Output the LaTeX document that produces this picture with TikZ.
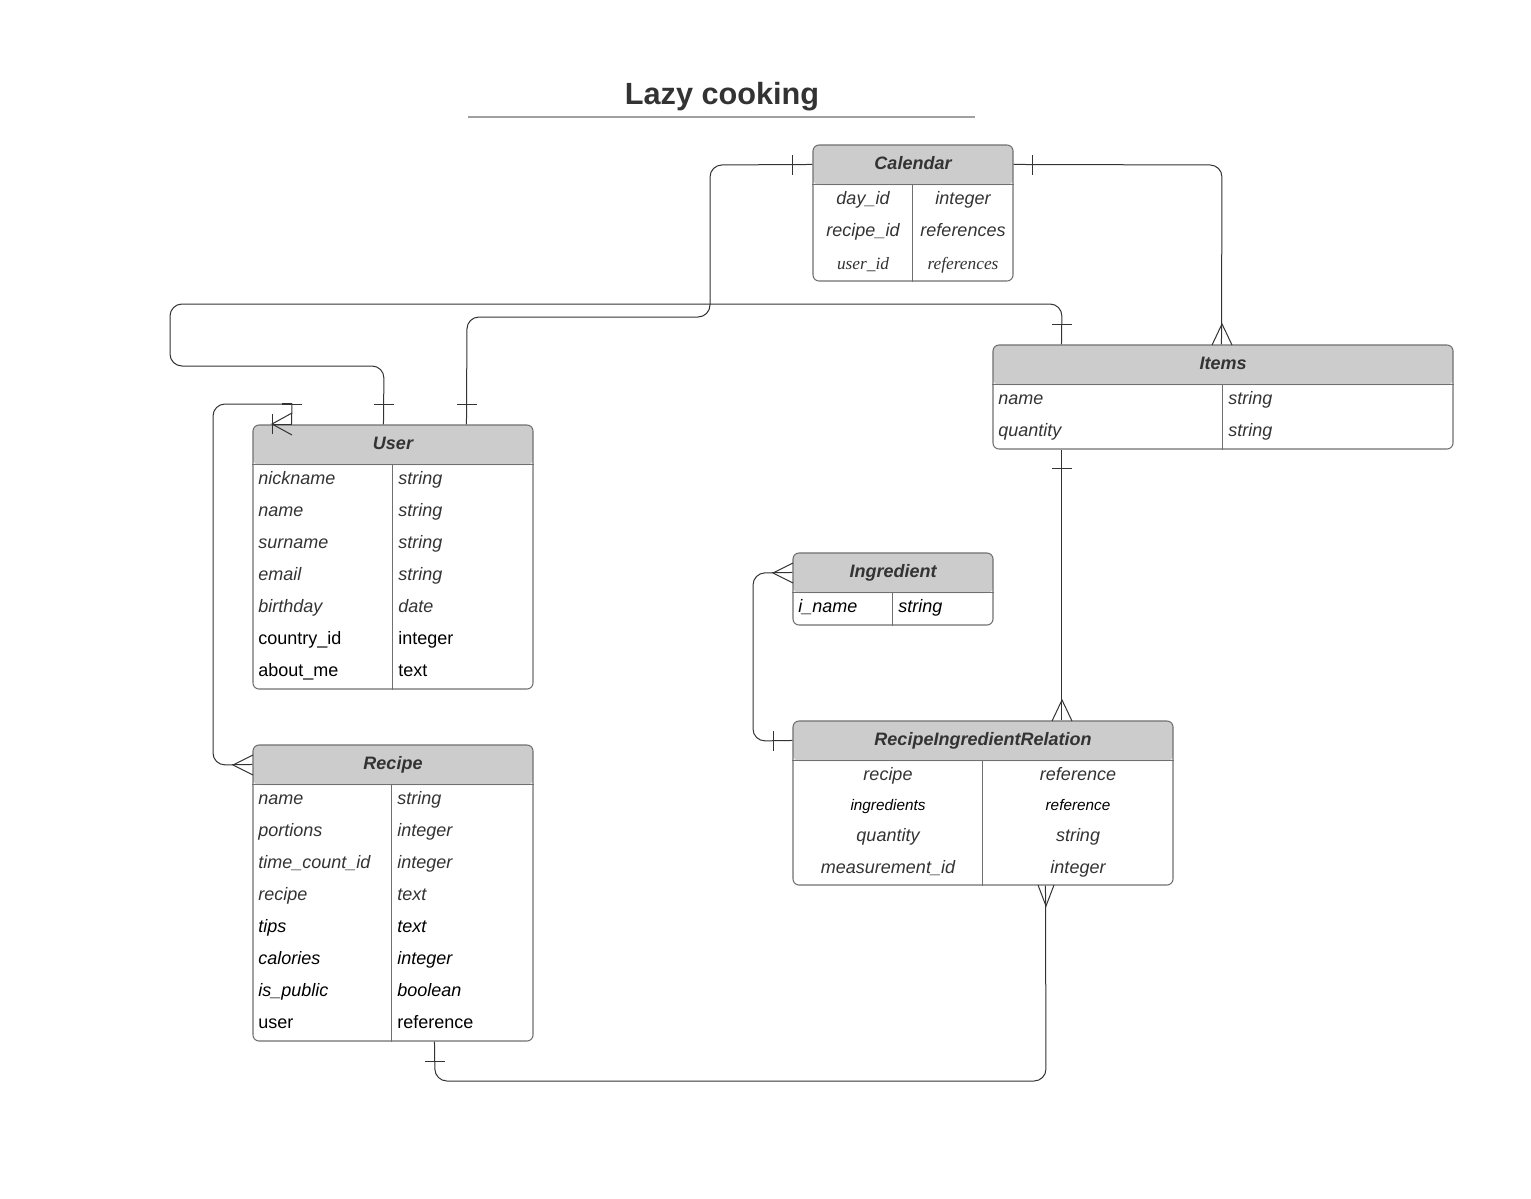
\documentclass[tikz,border=0pt]{standalone}
\usepackage{fontspec}
\setmainfont{Liberation Sans}
\newfontfamily\serifit{Liberation Serif}
\usetikzlibrary{calc}
\definecolor{hdr}{HTML}{CCCCCC}
\definecolor{brd}{HTML}{707070}
\definecolor{txt}{HTML}{333333}
\definecolor{ln}{HTML}{333333}
\definecolor{ttlline}{HTML}{A0A0A0}
\begin{document}
\begin{tikzpicture}[x=0.75pt,y=-0.75pt,
 tbl/.style={draw=brd, line width=0.8pt, rounded corners=4.5pt, inner sep=0pt,
   path picture={\fill[hdr] (path picture bounding box.north west) rectangle ([yshift=-30pt]path picture bounding box.north east);}},
 hd/.style={font=\fontsize{13.5}{16}\selectfont\bfseries\itshape, text=txt, anchor=base, inner sep=0pt},
 fi/.style={font=\fontsize{13.5}{16}\selectfont\itshape, text=txt, inner sep=0pt},
 fb/.style={font=\fontsize{13.5}{16}\selectfont\itshape, text=black, inner sep=0pt},
 fu/.style={font=\fontsize{13.5}{16}\selectfont, text=black, inner sep=0pt},
 fs/.style={font=\fontsize{11.5}{14}\selectfont\itshape, text=black, inner sep=0pt},
 fser/.style={font=\fontsize{13}{16}\selectfont\serifit\itshape, text=txt, inner sep=0pt},
 conn/.style={draw=ln, line width=0.75pt, rounded corners=9pt},
 mk/.style={draw=ln, line width=0.75pt},
 divl/.style={draw=brd, line width=0.8pt}
]
\useasboundingbox[fill=white] (0,0) rectangle (1531,1199);

% title
\node[font=\fontsize{23}{28}\selectfont\bfseries, text=txt, anchor=base, inner sep=0pt] (title) at (722,104) {Lazy cooking};
\coordinate (tl) at (468,117);
\coordinate (tr) at (975,117);
\draw[ttlline, line width=1.4pt] (tl) -- (tr);

% tables
\node[tbl, minimum width=150pt, minimum height=102pt] (cal) at (913,213) {};
\node[tbl, minimum width=210pt, minimum height=198pt] (user) at (393,557) {};
\node[tbl, minimum width=210pt, minimum height=222pt] (recipe) at (393,893) {};
\node[tbl, minimum width=345pt, minimum height=78pt] (items) at (1223,397) {};
\node[tbl, minimum width=150pt, minimum height=54pt] (ing) at (893,589) {};
\node[tbl, minimum width=285pt, minimum height=123pt] (rir) at (983,803) {};

% header lines and dividers
\foreach \t/\d in {cal/100, user/140, recipe/139, items/230, ing/100, rir/190}{
  \draw[divl] ($(\t.north west)+(0,40)$) -- ($(\t.north east)+(0,40)$);
  \draw[divl] ($(\t.north west)+(\d,40)$) -- ($(\t.south west)+(\d,0)$);
}

% Calendar
\node[hd] (calh) at (913,169) {Calendar};
\node[fi, anchor=base] (c1a) at (863,204) {day\_id};
\node[fi, anchor=base] (c1b) at (963,204) {integer};
\node[fi, anchor=base] (c2a) at (863,236) {recipe\_id};
\node[fi, anchor=base] (c2b) at (963,236) {references};
\node[fser, anchor=base] (c3a) at (863,269) {user\_id};
\node[fser, anchor=base] (c3b) at (963,269) {references};

% User
\node[hd] (userh) at (393,449) {User};
\node[fi, anchor=base west] (u1a) at (258,484) {nickname};
\node[fi, anchor=base west] (u1b) at (398,484) {string};
\node[fi, anchor=base west] (u2a) at (258,516) {name};
\node[fi, anchor=base west] (u2b) at (398,516) {string};
\node[fi, anchor=base west] (u3a) at (258,548) {surname};
\node[fi, anchor=base west] (u3b) at (398,548) {string};
\node[fi, anchor=base west] (u4a) at (258,580) {email};
\node[fi, anchor=base west] (u4b) at (398,580) {string};
\node[fi, anchor=base west] (u5a) at (258,612) {birthday};
\node[fi, anchor=base west] (u5b) at (398,612) {date};
\node[fu, anchor=base west] (u6a) at (258,644) {country\_id};
\node[fu, anchor=base west] (u6b) at (398,644) {integer};
\node[fu, anchor=base west] (u7a) at (258,676) {about\_me};
\node[fu, anchor=base west] (u7b) at (398,676) {text};

% Recipe
\node[hd] (reciph) at (393,769) {Recipe};
\node[fi, anchor=base west] (r1a) at (258,804) {name};
\node[fi, anchor=base west] (r1b) at (397,804) {string};
\node[fi, anchor=base west] (r2a) at (258,836) {portions};
\node[fi, anchor=base west] (r2b) at (397,836) {integer};
\node[fi, anchor=base west] (r3a) at (258,868) {time\_count\_id};
\node[fi, anchor=base west] (r3b) at (397,868) {integer};
\node[fi, anchor=base west] (r4a) at (258,900) {recipe};
\node[fi, anchor=base west] (r4b) at (397,900) {text};
\node[fb, anchor=base west] (r5a) at (258,932) {tips};
\node[fb, anchor=base west] (r5b) at (397,932) {text};
\node[fb, anchor=base west] (r6a) at (258,964) {calories};
\node[fb, anchor=base west] (r6b) at (397,964) {integer};
\node[fb, anchor=base west] (r7a) at (258,996) {is\_public};
\node[fb, anchor=base west] (r7b) at (397,996) {boolean};
\node[fu, anchor=base west] (r8a) at (258,1028) {user};
\node[fu, anchor=base west] (r8b) at (397,1028) {reference};

% Items
\node[hd] (itemsh) at (1223,369) {Items};
\node[fi, anchor=base west] (i1a) at (998,404) {name};
\node[fi, anchor=base west] (i1b) at (1228,404) {string};
\node[fi, anchor=base west] (i2a) at (998,436) {quantity};
\node[fi, anchor=base west] (i2b) at (1228,436) {string};

% Ingredient
\node[hd] (ingh) at (893,577) {Ingredient};
\node[fb, anchor=base west] (g1a) at (798,612) {i\_name};
\node[fb, anchor=base west] (g1b) at (898,612) {string};

% RecipeIngredientRelation
\node[hd] (rirh) at (983,745) {RecipeIngredientRelation};
\node[fi, anchor=base] (x1a) at (888,780) {recipe};
\node[fi, anchor=base] (x1b) at (1078,780) {reference};
\node[fs, anchor=base] (x2a) at (888,810) {ingredients};
\node[fs, anchor=base] (x2b) at (1078,810) {reference};
\node[fi, anchor=base] (x3a) at (888,841) {quantity};
\node[fi, anchor=base] (x3b) at (1078,841) {string};
\node[fi, anchor=base] (x4a) at (888,873) {measurement\_id};
\node[fi, anchor=base] (x4b) at (1078,873) {integer};

% connectors
% User -- Items
\draw[conn] ($(user.north west)+(131,0)$) -- (384,366) -- (170,366) -- (170,304) -- (1062,304) -- ($(items.north west)+(69,0)$);
% Calendar -- User
\draw[conn] ($(cal.north west)+(0,20)$) -- (710,165) -- (710,317) -- (467,317) -- ($(user.north west)+(214,0)$);
% Calendar -- Items
\draw[conn] ($(cal.north east)+(0,20)$) -- (1222,165) -- ($(items.north west)+(229,0)$);
% Items -- RIR
\draw[conn] ($(items.south west)+(69,0)$) -- ($(rir.north west)+(269,0)$);
% Ingredient -- RIR
\draw[conn] ($(ing.north west)+(0,20)$) -- (753,573) -- (753,741) -- ($(rir.north west)+(0,20)$);
% Recipe -- RIR
\draw[conn] ($(recipe.south west)+(182,0)$) -- (435,1081) -- (1046,1081) -- ($(rir.south west)+(253,0)$);
% User -- Recipe
\draw[conn] ($(recipe.north west)+(0,20)$) -- (213,765) -- (213,404) [sharp corners] -- (292,404) -- ($(user.north west)+(39,0)$);

% markers
\draw[mk] (374,404) -- (394,404);
\draw[mk] (1052,324) -- (1072,324);
\draw[mk] (457,404) -- (477,404);
\draw[mk] (792,155) -- (792,175);
\draw[mk] (1032,155) -- (1032,175);
\draw[mk] (1212,345) -- (1222,324) -- (1232,345);
\draw[mk] (1052,468) -- (1072,468);
\draw[mk] (1052,721) -- (1062,700) -- (1072,721);
\draw[mk] (793,563) -- (773,573) -- (793,583);
\draw[mk] (773,731) -- (773,751);
\draw[mk] (425,1061) -- (445,1061);
\draw[mk] (1038,885) -- (1046,906) -- (1054,885);
\draw[mk] (253,755) -- (233,765) -- (253,775);
\draw[mk] (292,413) -- (272,424) -- (292,435);
\draw[mk] (272,424) -- (292,424);
\draw[mk] (272,414) -- (272,434);
\draw[mk, line width=1.4pt] (282,404) -- (292,404);
\draw[mk] (292,404) -- (302,404);
\end{tikzpicture}
\end{document}
